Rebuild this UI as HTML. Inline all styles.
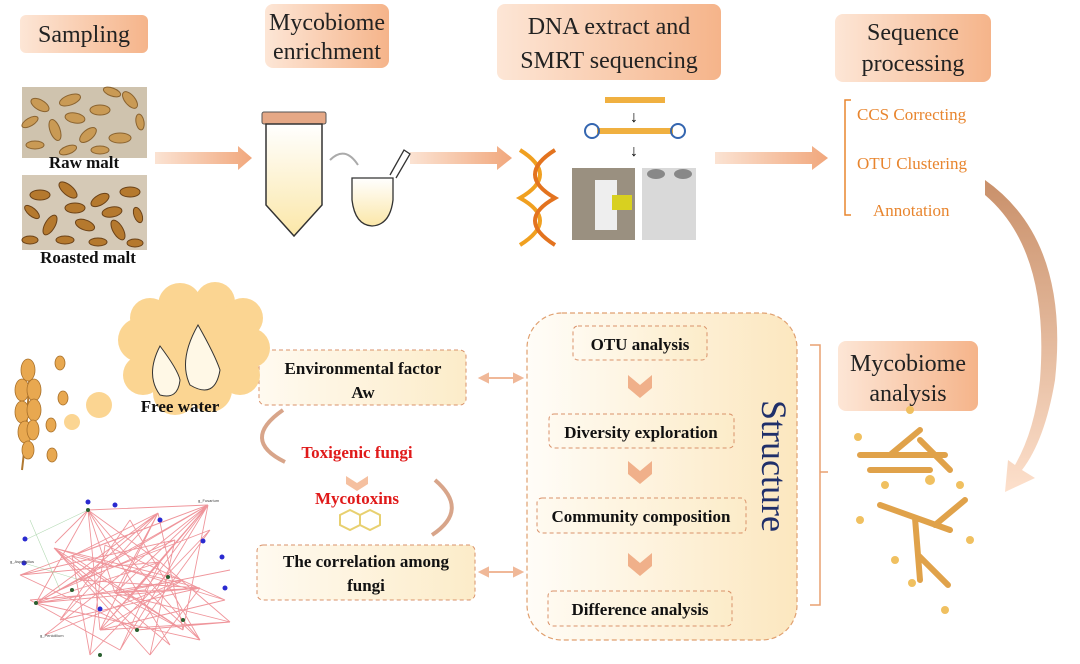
<!DOCTYPE html>
<html><head><meta charset="utf-8">
<style>
body{margin:0;background:#fff;}
svg{display:block;font-family:"Liberation Serif",serif;}
.lbl{font-size:24px;fill:#222;}
.b{font-weight:bold;font-size:17px;fill:#111;}
.o{font-size:17px;fill:#e8852e;}
</style></head><body>
<svg width="1080" height="664" viewBox="0 0 1080 664" xmlns="http://www.w3.org/2000/svg">
<defs>
<linearGradient id="pk" x1="0" x2="1"><stop offset="0" stop-color="#fde6d6"/><stop offset="1" stop-color="#f5b48a"/></linearGradient>
<linearGradient id="ar" x1="0" x2="1"><stop offset="0" stop-color="#fbe3d3"/><stop offset="1" stop-color="#f1a77c"/></linearGradient>
<linearGradient id="big" x1="0" x2="1"><stop offset="0" stop-color="#fffdf8"/><stop offset="1" stop-color="#fce7bf"/></linearGradient>
<linearGradient id="bx" x1="0" x2="1"><stop offset="0" stop-color="#fffaf0"/><stop offset="1" stop-color="#fcecc9"/></linearGradient>
<linearGradient id="cv" x1="0" x2="0" y1="0" y2="1"><stop offset="0" stop-color="#c9906a"/><stop offset="1" stop-color="#fde0cc"/></linearGradient>
<linearGradient id="tube" x1="0" x2="0" y1="0" y2="1"><stop offset="0" stop-color="#fff"/><stop offset="1" stop-color="#fbe7a8"/></linearGradient>
</defs>

<rect x="20" y="15" width="128" height="38" rx="6" fill="url(#pk)"/>
<text x="84" y="42" class="lbl" text-anchor="middle">Sampling</text>
<rect x="265" y="4" width="124" height="64" rx="8" fill="url(#pk)"/>
<text x="327" y="30" class="lbl" text-anchor="middle" font-size="22">Mycobiome</text>
<text x="327" y="59" class="lbl" text-anchor="middle" font-size="22">enrichment</text>
<rect x="497" y="4" width="224" height="76" rx="8" fill="url(#pk)"/>
<text x="609" y="34" class="lbl" text-anchor="middle">DNA extract and</text>
<text x="609" y="68" class="lbl" text-anchor="middle">SMRT sequencing</text>
<rect x="835" y="14" width="156" height="68" rx="8" fill="url(#pk)"/>
<text x="913" y="40" class="lbl" text-anchor="middle" font-size="22">Sequence</text>
<text x="913" y="71" class="lbl" text-anchor="middle" font-size="22">processing</text>

<rect x="22" y="87" width="125" height="71" fill="#cfc3ae"/>
<g fill="#c99a55" stroke="#8a6330" stroke-width="1">
<ellipse cx="40" cy="105" rx="10" ry="5" transform="rotate(30 40 105)"/><ellipse cx="70" cy="100" rx="11" ry="5" transform="rotate(-20 70 100)"/><ellipse cx="100" cy="110" rx="10" ry="5"/><ellipse cx="130" cy="100" rx="10" ry="5" transform="rotate(50 130 100)"/><ellipse cx="55" cy="130" rx="11" ry="5" transform="rotate(70 55 130)"/><ellipse cx="88" cy="135" rx="10" ry="5" transform="rotate(-40 88 135)"/><ellipse cx="120" cy="138" rx="11" ry="5"/><ellipse cx="35" cy="145" rx="9" ry="4"/>
<ellipse cx="112" cy="92" rx="9" ry="4" transform="rotate(20 112 92)"/><ellipse cx="30" cy="122" rx="9" ry="4" transform="rotate(-30 30 122)"/><ellipse cx="75" cy="118" rx="10" ry="5" transform="rotate(10 75 118)"/><ellipse cx="140" cy="122" rx="8" ry="4" transform="rotate(80 140 122)"/><ellipse cx="100" cy="150" rx="9" ry="4"/><ellipse cx="68" cy="150" rx="9" ry="4" transform="rotate(-20 68 150)"/></g>
<text x="84" y="168" class="b" font-size="12" text-anchor="middle">Raw malt</text>
<rect x="22" y="175" width="125" height="75" fill="#d5c9b6"/>
<g fill="#b5792e" stroke="#6b4218" stroke-width="1">
<ellipse cx="40" cy="195" rx="10" ry="5"/><ellipse cx="68" cy="190" rx="11" ry="5" transform="rotate(40 68 190)"/><ellipse cx="100" cy="200" rx="10" ry="5" transform="rotate(-30 100 200)"/><ellipse cx="130" cy="192" rx="10" ry="5"/><ellipse cx="50" cy="225" rx="11" ry="5" transform="rotate(-60 50 225)"/><ellipse cx="85" cy="225" rx="10" ry="5" transform="rotate(20 85 225)"/><ellipse cx="118" cy="230" rx="11" ry="5" transform="rotate(60 118 230)"/><ellipse cx="65" cy="240" rx="9" ry="4"/>
<ellipse cx="32" cy="212" rx="9" ry="4" transform="rotate(40 32 212)"/><ellipse cx="75" cy="208" rx="10" ry="5"/><ellipse cx="112" cy="212" rx="10" ry="5" transform="rotate(-10 112 212)"/><ellipse cx="138" cy="215" rx="8" ry="4" transform="rotate(70 138 215)"/><ellipse cx="98" cy="242" rx="9" ry="4"/><ellipse cx="135" cy="243" rx="8" ry="4"/><ellipse cx="30" cy="240" rx="8" ry="4"/></g>
<text x="88" y="263" class="b" font-size="12" text-anchor="middle">Roasted malt</text>

<polygon points="155,152 238,152 238,146 252,158 238,170 238,164 155,164" fill="url(#ar)"/>
<polygon points="410,152 497,152 497,146 512,158 497,170 497,164 410,164" fill="url(#ar)"/>
<polygon points="715,152 812,152 812,146 828,158 812,170 812,164 715,164" fill="url(#ar)"/>

<rect x="262" y="112" width="64" height="12" rx="2" fill="#e5a886" stroke="#555"/>
<path d="M266 124 V205 L294 236 L322 205 V124 Z" fill="url(#tube)" stroke="#333" stroke-width="1.5"/>
<path d="M352 178 H393 V200 Q390 225 372 226 Q355 225 352 200 Z" fill="url(#tube)" stroke="#333" stroke-width="1.3"/>
<path d="M390 175 L404 150 L410 154 L396 178" fill="none" stroke="#333" stroke-width="1.3"/>
<path d="M330 160 Q345 145 358 165" fill="none" stroke="#aaa" stroke-width="2"/>

<path d="M520 150 Q560 175 520 198 Q560 220 520 245" fill="none" stroke="#f0a020" stroke-width="4"/>
<path d="M555 150 Q515 175 555 198 Q515 220 555 245" fill="none" stroke="#e3731f" stroke-width="4"/>
<rect x="605" y="97" width="60" height="6" fill="#f0b040"/>
<text x="634" y="122" font-size="16" text-anchor="middle">↓</text>
<rect x="597" y="128" width="76" height="6" fill="#f0b040"/>
<circle cx="592" cy="131" r="7" fill="none" stroke="#3466b0" stroke-width="2"/><circle cx="678" cy="131" r="7" fill="none" stroke="#3466b0" stroke-width="2"/>
<text x="634" y="156" font-size="16" text-anchor="middle">↓</text>
<rect x="572" y="168" width="63" height="72" fill="#9a9080"/><rect x="595" y="180" width="22" height="50" fill="#eee"/><rect x="612" y="195" width="20" height="15" fill="#d8d020"/>
<rect x="642" y="168" width="54" height="72" fill="#d9d9d9"/><ellipse cx="656" cy="174" rx="9" ry="5" fill="#888"/><ellipse cx="683" cy="174" rx="9" ry="5" fill="#888"/>

<path d="M851 100 H845 V215 H851" fill="none" stroke="#e8852e" stroke-width="1.5"/>
<text x="857" y="120" class="o">CCS Correcting</text>
<text x="857" y="169" class="o">OTU Clustering</text>
<text x="873" y="216" class="o">Annotation</text>

<path d="M985 180 Q1070 240 1055 380 Q1045 440 1022 470 L1035 478 L1005 492 L1008 460 L1015 465 Q1035 430 1040 380 Q1050 250 985 195 Z" fill="url(#cv)"/>

<rect x="838" y="341" width="140" height="70" rx="8" fill="url(#pk)"/>
<text x="908" y="371" class="lbl" text-anchor="middle" font-size="22">Mycobiome</text>
<text x="908" y="401" class="lbl" text-anchor="middle" font-size="22">analysis</text>
<path d="M810 345 H820 V605 H810 M820 472 H828" fill="none" stroke="#e8a070" stroke-width="1.5"/>
<g stroke="#e0a24a" stroke-width="6" fill="none" stroke-linecap="round">
<path d="M860 455 H945 M890 455 L920 430 M920 440 L950 470 M870 470 H930"/>
<path d="M880 505 L950 530 M915 518 L920 580 M935 525 L965 500 M918 555 L948 585"/></g>
<g fill="#f0c060"><circle cx="858" cy="437" r="4"/><circle cx="910" cy="410" r="4"/><circle cx="930" cy="480" r="5"/><circle cx="960" cy="485" r="4"/><circle cx="860" cy="520" r="4"/><circle cx="970" cy="540" r="4"/><circle cx="895" cy="560" r="4"/><circle cx="945" cy="610" r="4"/><circle cx="912" cy="583" r="4"/><circle cx="885" cy="485" r="4"/></g>

<rect x="527" y="313" width="270" height="327" rx="35" fill="url(#big)" stroke="#e0a070" stroke-width="1.2" stroke-dasharray="5,3"/>
<g fill="url(#bx)" stroke="#d9926a" stroke-width="1" stroke-dasharray="4,3">
<rect x="573" y="326" width="134" height="34" rx="5"/>
<rect x="549" y="414" width="185" height="34" rx="5"/>
<rect x="537" y="498" width="209" height="35" rx="5"/>
<rect x="548" y="591" width="184" height="35" rx="5"/></g>
<text x="640" y="350" class="b" text-anchor="middle">OTU analysis</text>
<text x="641" y="438" class="b" text-anchor="middle">Diversity exploration</text>
<text x="641" y="522" class="b" text-anchor="middle">Community composition</text>
<text x="640" y="615" class="b" text-anchor="middle">Difference  analysis</text>
<g fill="#f0b08a"><polygon points="628,375 640,385 652,375 652,388 640,398 628,388"/><polygon points="628,461 640,471 652,461 652,474 640,484 628,474"/><polygon points="628,553 640,563 652,553 652,566 640,576 628,566"/></g>
<text transform="translate(762 400) rotate(90)" font-size="36" fill="#1f2f6a">Structure</text>

<g stroke="#f0b898" stroke-width="2" fill="#f0b898"><line x1="486" y1="378" x2="516" y2="378"/><polygon points="480,378 488,374 488,382"/><polygon points="522,378 514,374 514,382"/>
<line x1="486" y1="572" x2="516" y2="572"/><polygon points="480,572 488,568 488,576"/><polygon points="522,572 514,568 514,576"/></g>

<g fill="url(#bx)" stroke="#d9926a" stroke-width="1" stroke-dasharray="4,3">
<rect x="259" y="350" width="207" height="55" rx="6"/>
<rect x="257" y="545" width="218" height="55" rx="6"/></g>
<text x="363" y="374" class="b" text-anchor="middle">Environmental factor</text>
<text x="363" y="398" class="b" text-anchor="middle">Aw</text>
<text x="366" y="567" class="b" text-anchor="middle">The correlation among</text>
<text x="366" y="591" class="b" text-anchor="middle">fungi</text>
<text x="357" y="458" class="b" text-anchor="middle" style="fill:#e01a1a">Toxigenic fungi</text>
<text x="357" y="504" class="b" text-anchor="middle" style="fill:#e01a1a">Mycotoxins</text>
<polygon points="346,476 357,483 368,476 368,484 357,491 346,484" fill="#f5c0a0"/>
<g stroke="#e8d070" fill="none" stroke-width="2"><polygon points="340,515 350,510 360,515 360,525 350,530 340,525"/><polygon points="360,515 370,510 380,515 380,525 370,530 360,525"/></g>
<path d="M283 410 Q240 440 285 462" fill="none" stroke="#d8a58a" stroke-width="4"/>
<path d="M435 480 Q470 510 432 535" fill="none" stroke="#d8a58a" stroke-width="4"/>

<g fill="#fbd592"><circle cx="140" cy="340" r="22"/><circle cx="150" cy="318" r="20"/><circle cx="180" cy="305" r="22"/><circle cx="215" cy="302" r="20"/><circle cx="243" cy="318" r="20"/><circle cx="250" cy="348" r="20"/><circle cx="240" cy="375" r="20"/><circle cx="210" cy="390" r="22"/><circle cx="175" cy="393" r="22"/><circle cx="143" cy="375" r="20"/><circle cx="195" cy="348" r="45"/>
<circle cx="99" cy="405" r="13"/><circle cx="72" cy="422" r="8"/></g>
<path d="M160 346 Q145 375 160 395 Q178 400 180 380 Q178 370 160 346 Z" fill="#fff8e6" stroke="#333"/>
<path d="M198 325 Q178 360 190 385 Q215 400 220 370 Q215 355 198 325 Z" fill="#fff8e6" stroke="#333"/>
<text x="180" y="412" class="b" font-size="13" text-anchor="middle">Free water</text>

<path d="M22 470 Q28 420 30 360" stroke="#b07830" stroke-width="2" fill="none"/>
<g fill="#e8a850" stroke="#a8702a" stroke-width="0.8">
<ellipse cx="28" cy="370" rx="7" ry="11"/><ellipse cx="22" cy="390" rx="7" ry="11"/><ellipse cx="34" cy="390" rx="7" ry="11"/><ellipse cx="22" cy="412" rx="7" ry="11"/><ellipse cx="34" cy="410" rx="7" ry="11"/><ellipse cx="25" cy="432" rx="7" ry="11"/><ellipse cx="33" cy="430" rx="6" ry="10"/><ellipse cx="28" cy="450" rx="6" ry="9"/>
<ellipse cx="60" cy="363" rx="5" ry="7"/><ellipse cx="63" cy="398" rx="5" ry="7"/><ellipse cx="51" cy="425" rx="5" ry="7"/><ellipse cx="52" cy="455" rx="5" ry="7"/></g>

<g stroke="#e5505a" stroke-width="0.9" opacity="0.6">
<path d="M88 510 L208 505 M88 510 L55 543 M88 510 L115 593 M88 510 L36 603 M88 510 L160 562 M88 510 L100 630 M208 505 L36 603 M208 505 L115 593 M208 505 L72 556 M208 505 L160 562 M208 505 L183 630 M208 505 L100 630 M158 513 L36 603 M158 513 L115 593 M158 513 L100 630 M158 513 L183 630 M158 513 L72 556 M54 548 L183 630 M54 548 L137 630 M54 548 L183 580 M72 556 L183 630 M72 556 L200 588 M36 603 L200 588 M36 603 L183 580 M115 593 L230 622 M115 593 L200 588 M115 593 L183 630 M160 562 L36 603 M160 562 L100 630 M160 562 L230 622 M137 630 L230 622 M100 630 L230 622 M80 580 L200 588 M80 580 L158 513 M115 560 L208 505 M115 560 L36 603 M183 580 L100 630 M230 570 L115 593 M210 530 L80 580 M210 530 L137 630 M128 600 L208 505 M60 620 L158 513 M60 620 L200 588 M170 645 L88 510 M170 645 L54 548 M120 650 L208 505 M120 650 L160 562
M20 575 L208 505 M20 575 L160 562 M20 575 L137 630 M30 600 L120 650 M45 635 L208 505 M45 635 L183 580 M90 655 L210 530 M90 655 L72 556 M150 655 L54 548 M150 655 L200 588 M200 640 L88 510 M200 640 L36 603 M225 600 L54 548 M225 600 L100 630 M130 520 L60 620 M130 520 L200 640 M175 540 L20 575 M175 540 L150 655 M105 545 L225 600 M105 545 L90 655 M145 590 L208 505 M145 590 L30 600 M145 590 L200 640 M60 590 L175 540"/></g>
<g stroke="#80c080" stroke-width="0.6" opacity="0.6"><path d="M25 540 L88 510 M24 563 L80 580 M30 520 L60 590"/></g>
<g fill="#2a2ad0"><circle cx="88" cy="502" r="2.5"/><circle cx="115" cy="505" r="2.5"/><circle cx="25" cy="539" r="2.5"/><circle cx="24" cy="563" r="2.5"/><circle cx="203" cy="541" r="2.5"/><circle cx="222" cy="557" r="2.5"/><circle cx="100" cy="609" r="2.5"/><circle cx="225" cy="588" r="2.5"/><circle cx="160" cy="520" r="2.5"/></g>
<g fill="#2a6030"><circle cx="88" cy="510" r="2"/><circle cx="36" cy="603" r="2"/><circle cx="137" cy="630" r="2"/><circle cx="183" cy="620" r="2"/><circle cx="72" cy="590" r="2"/><circle cx="168" cy="577" r="2"/><circle cx="100" cy="655" r="2"/></g>
<g font-family="Liberation Sans" font-size="4" fill="#444"><text x="198" y="502">g_Fusarium</text><text x="10" y="563">g_Aspergillus</text><text x="40" y="637">g_Penicillium</text></g>
</svg>
</body></html>
